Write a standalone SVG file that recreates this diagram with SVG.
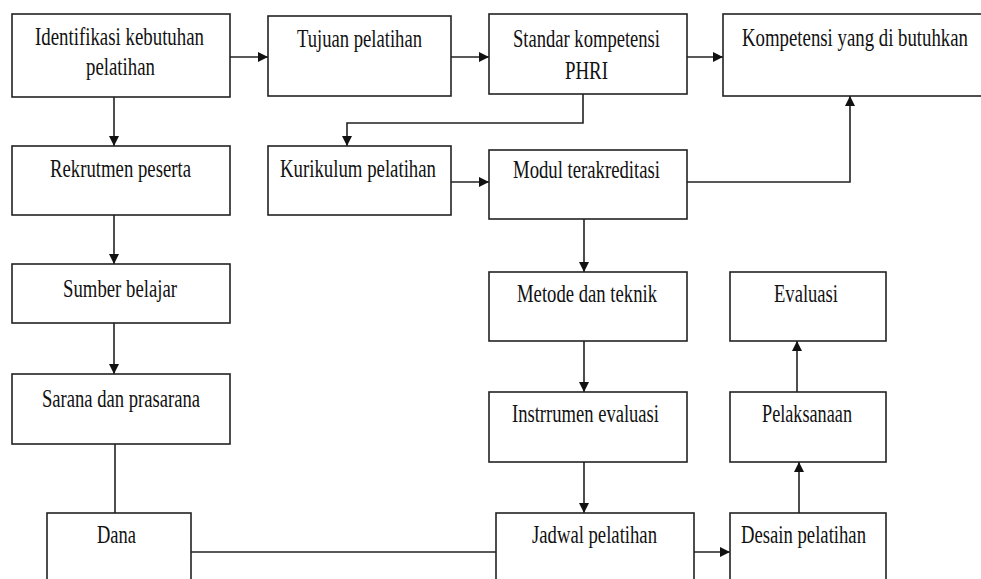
<svg xmlns="http://www.w3.org/2000/svg" width="981" height="579" viewBox="0 0 981 579">
<style>
.box{fill:#fff;stroke:#222;stroke-width:1.6}
.lbl{font-family:"Liberation Serif","Times New Roman",serif;font-size:25px;fill:#111}
.c{fill:none;stroke:#222;stroke-width:1.6}
.a{marker-end:url(#arr)}
</style>
<defs>
<marker id="arr" markerUnits="userSpaceOnUse" markerWidth="11" markerHeight="11" refX="10" refY="5" orient="auto">
<path d="M0,0 L10,5 L0,10 z" fill="#111"/>
</marker>
</defs>
<rect width="981" height="579" fill="#fff"/>
<g id="connectors">
<path class="c a" d="M230,57 H268"/>
<path class="c a" d="M451,57 H489"/>
<path class="c a" d="M687,57 H723"/>
<path class="c a" d="M583,94 V123 H347 V146"/>
<path class="c a" d="M451,182 H489"/>
<path class="c a" d="M687,182 H850 V96"/>
<path class="c a" d="M114,97 V146"/>
<path class="c a" d="M114,215 V264"/>
<path class="c a" d="M114,323 V374"/>
<path class="c" d="M115,444 V513"/>
<path class="c" d="M191,552 H496"/>
<path class="c a" d="M584,219 V272"/>
<path class="c a" d="M584,341 V392"/>
<path class="c a" d="M584,462 V513"/>
<path class="c a" d="M694,552 H730"/>
<path class="c a" d="M799,513 V462"/>
<path class="c a" d="M797,392 V341"/>
</g>
<g id="identifikasi"><rect class="box" x="12" y="14" width="218" height="83"/><text class="lbl" x="35" y="45" textLength="169" lengthAdjust="spacingAndGlyphs">Identifikasi kebutuhan</text><text class="lbl" x="86" y="75" textLength="69" lengthAdjust="spacingAndGlyphs">pelatihan</text></g>
<g id="tujuan"><rect class="box" x="268" y="16" width="183" height="80"/><text class="lbl" x="297" y="47" textLength="125" lengthAdjust="spacingAndGlyphs">Tujuan pelatihan</text></g>
<g id="standar"><rect class="box" x="489" y="14" width="198" height="80"/><text class="lbl" x="513" y="47" textLength="147" lengthAdjust="spacingAndGlyphs">Standar kompetensi</text><text class="lbl" x="565" y="79" textLength="43" lengthAdjust="spacingAndGlyphs">PHRI</text></g>
<g id="kompetensi"><rect class="box" x="723" y="14" width="270" height="82"/><text class="lbl" x="742" y="46" textLength="226" lengthAdjust="spacingAndGlyphs">Kompetensi yang di butuhkan</text></g>
<g id="rekrutmen"><rect class="box" x="12" y="146" width="218" height="69"/><text class="lbl" x="50" y="177" textLength="141" lengthAdjust="spacingAndGlyphs">Rekrutmen peserta</text></g>
<g id="kurikulum"><rect class="box" x="268" y="146" width="183" height="69"/><text class="lbl" x="280" y="177" textLength="156" lengthAdjust="spacingAndGlyphs">Kurikulum pelatihan</text></g>
<g id="modul"><rect class="box" x="489" y="150" width="198" height="69"/><text class="lbl" x="513" y="178" textLength="147" lengthAdjust="spacingAndGlyphs">Modul terakreditasi</text></g>
<g id="sumber"><rect class="box" x="12" y="264" width="218" height="59"/><text class="lbl" x="63" y="297" textLength="114" lengthAdjust="spacingAndGlyphs">Sumber belajar</text></g>
<g id="metode"><rect class="box" x="489" y="272" width="198" height="69"/><text class="lbl" x="517" y="302" textLength="140" lengthAdjust="spacingAndGlyphs">Metode dan teknik</text></g>
<g id="evaluasi"><rect class="box" x="730" y="272" width="156" height="69"/><text class="lbl" x="774" y="302" textLength="64" lengthAdjust="spacingAndGlyphs">Evaluasi</text></g>
<g id="sarana"><rect class="box" x="12" y="374" width="218" height="70"/><text class="lbl" x="42" y="407" textLength="158" lengthAdjust="spacingAndGlyphs">Sarana dan prasarana</text></g>
<g id="instrumen"><rect class="box" x="489" y="392" width="198" height="70"/><text class="lbl" x="512" y="422" textLength="147" lengthAdjust="spacingAndGlyphs">Instrrumen evaluasi</text></g>
<g id="pelaksanaan"><rect class="box" x="730" y="392" width="156" height="70"/><text class="lbl" x="762" y="422" textLength="90" lengthAdjust="spacingAndGlyphs">Pelaksanaan</text></g>
<g id="dana"><rect class="box" x="47" y="513" width="144" height="80"/><text class="lbl" x="97" y="543" textLength="39" lengthAdjust="spacingAndGlyphs">Dana</text></g>
<g id="jadwal"><rect class="box" x="496" y="513" width="198" height="80"/><text class="lbl" x="532" y="543" textLength="125" lengthAdjust="spacingAndGlyphs">Jadwal pelatihan</text></g>
<g id="desain"><rect class="box" x="730" y="513" width="156" height="80"/><text class="lbl" x="741" y="543" textLength="125" lengthAdjust="spacingAndGlyphs">Desain pelatihan</text></g>
</svg>
